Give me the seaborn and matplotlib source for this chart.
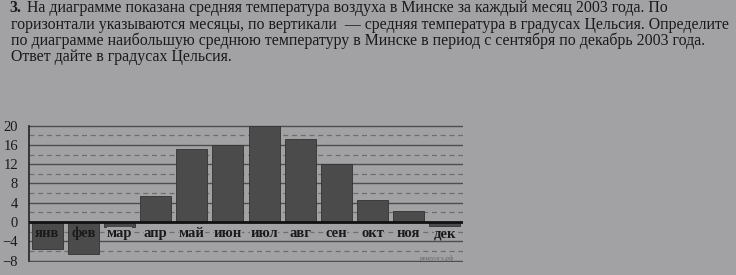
import matplotlib
matplotlib.use('Agg')
import matplotlib.pyplot as plt
import seaborn as sns
import pandas as pd

months = ['янв', 'фев', 'мар', 'апр', 'май', 'июн', 'июл', 'авг', 'сен', 'окт', 'ноя', 'дек']
temps = [-5.5, -6.6, -1.0, 5.3, 15.1, 16.0, 20.0, 17.2, 12.0, 4.6, 2.2, -0.9]
major_ticks = [-8, -4, 0, 4, 8, 12, 16, 20]
major_labels = ['\u22128', '\u22124', '0', '4', '8', '12', '16', '20']
minor_ticks = [-6, -2, 2, 6, 10, 14, 18]
title_lines = [
    'На диаграмме показана средняя температура воздуха в Минске за каждый месяц 2003 года. По',
    'горизонтали указываются месяцы, по вертикали  — средняя температура в градусах Цельсия. Определите',
    'по диаграмме наибольшую среднюю температуру в Минске в период с сентября по декабрь 2003 года.',
    'Ответ дайте в градусах Цельсия.',
]
number_label = '3.'
watermark = 'решуогэ.рф'

sns.set_theme(style='white')
plt.rcParams['font.family'] = ['Liberation Serif', 'DejaVu Serif']

BG = '#a2a2a5'
TXT = '#1a1a1a'
fig = plt.figure(figsize=(7.36, 2.75), dpi=100, facecolor=BG)
ax = fig.add_axes([29 / 736, 0.047, 434 / 736, 0.5015])
ax.set_facecolor(BG)

df = pd.DataFrame({'month': months, 'temp': temps})
sns.barplot(data=df, x='month', y='temp', order=months, color='#4b4b4b',
            saturation=1, width=0.86, edgecolor='#333333', linewidth=0.6,
            ax=ax, zorder=3)

for t in major_ticks:
    if t == 0:
        continue
    ax.axhline(t, color='#4e4e4e', lw=1.0, zorder=1)
for t in minor_ticks:
    ax.axhline(t, color='#6e6e6e', lw=0.9, dashes=(4, 3), zorder=1)
ax.axhline(0, color='#111111', lw=2.0, zorder=4)

ax.set_xlim(-0.5, 11.5)
ax.set_ylim(-8.3, 20.3)
ax.set_xticks([])
ax.set_xlabel('')
ax.set_ylabel('')
ax.set_yticks(major_ticks)
ax.set_yticklabels(major_labels)
ax.tick_params(axis='y', left=False, pad=2, labelsize=10.5, labelcolor=TXT)
for s in ['top', 'right', 'bottom']:
    ax.spines[s].set_visible(False)
ax.spines['left'].set_color('#222222')
ax.spines['left'].set_linewidth(1.2)
ax.spines['left'].set_bounds(-8, 20)

for i, (m, v) in enumerate(zip(months, temps)):
    kw = {}
    if v > -2:
        kw['bbox'] = dict(facecolor=BG, edgecolor='none', pad=0.1)
    ax.text(i, -2.4, m, ha='center', va='center', fontsize=10.5, fontweight='bold',
            color=TXT, zorder=5, **kw)

fig.text(437 / 736, 1 - 258 / 275, watermark, fontsize=5, color='#666666',
         ha='center', va='center')

ys = [8, 25, 41, 57]
FS = 11.4
fig.text(9 / 736, 1 - ys[0] / 275, number_label, fontsize=FS, fontweight='bold',
         color=TXT, va='center', ha='left')
fig.text(27 / 736, 1 - ys[0] / 275, title_lines[0], fontsize=FS, color=TXT,
         va='center', ha='left')
for line, y in zip(title_lines[1:], ys[1:]):
    fig.text(11 / 736, 1 - y / 275, line, fontsize=FS, color=TXT,
             va='center', ha='left')

fig.savefig('out.png', dpi=100, facecolor=BG)
